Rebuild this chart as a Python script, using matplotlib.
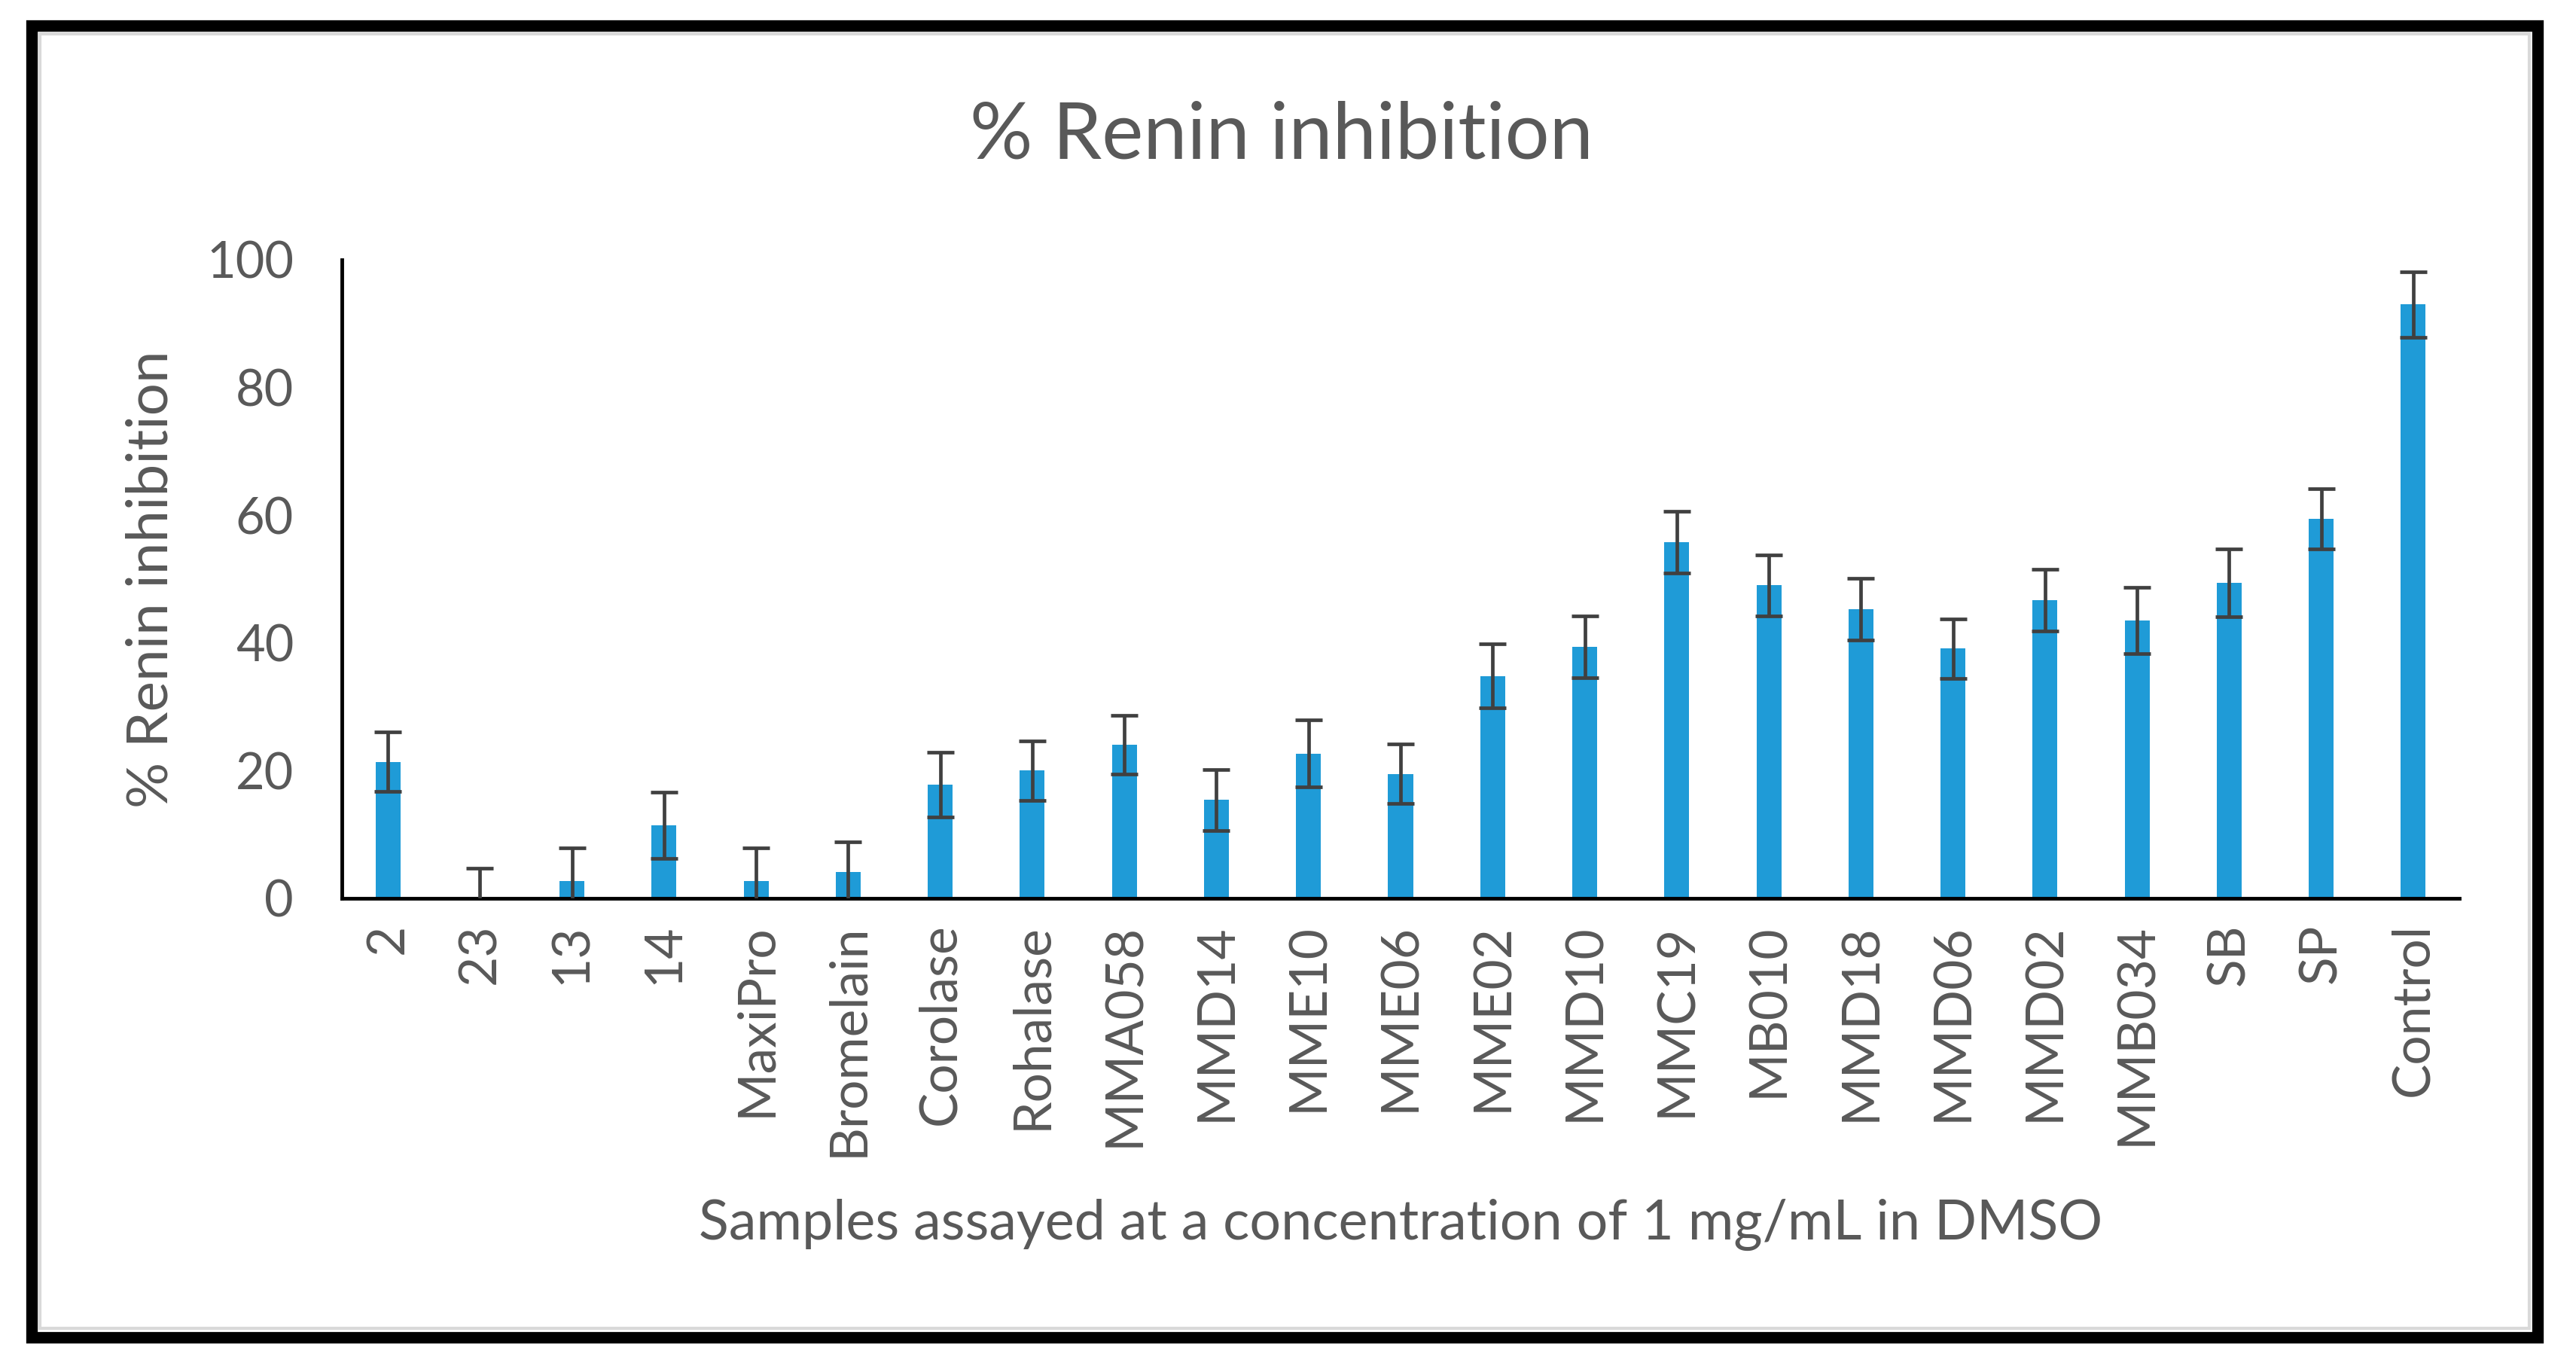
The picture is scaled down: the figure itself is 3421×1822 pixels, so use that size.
import matplotlib.pyplot as plt
from matplotlib.patches import Rectangle

# values
samples = [
    "2", "23", "13", "14", "MaxiPro", "Bromelain", "Corolase", "Rohalase",
    "MMA058", "MMD14", "MME10", "MME06", "MME02", "MMD10", "MMC19", "MB010",
    "MMD18", "MMD06", "MMD02", "MMB034", "SB", "SP", "Control",
]
inhibition = [
    21.4, 0.0, 2.7, 11.4, 2.7, 4.1, 17.8, 20.0,
    24.1, 15.4, 22.7, 19.5, 34.8, 39.4, 55.8, 49.0,
    45.3, 39.1, 46.7, 43.5, 49.4, 59.4, 93.0,
]
error = [
    4.7, 4.7, 5.2, 5.2, 5.2, 4.7, 5.1, 4.7,
    4.6, 4.8, 5.2, 4.7, 5.0, 4.8, 4.8, 4.8,
    4.8, 4.7, 4.8, 5.2, 5.3, 4.7, 5.1,
]

TEXT = "#595959"
BLUE = "#1F9BD7"

plt.rcParams["font.family"] = ["Lato", "DejaVu Sans"]

W, H, DPI = 3421, 1822, 100
fig = plt.figure(figsize=(W / DPI, H / DPI), dpi=DPI)
fig.patch.set_facecolor("white")

# outer frame around the chart
fig.patches.append(
    Rectangle((42 / W, 1 - 1776 / H), (3370 - 42) / W, (1776 - 34) / H,
              transform=fig.transFigure, fill=False, edgecolor="black",
              linewidth=11, zorder=10)
)
fig.patches.append(
    Rectangle((53 / W, 1 - 1764 / H), (3359 - 53) / W, (1764 - 45) / H,
              transform=fig.transFigure, fill=False, edgecolor="#D9D9D9",
              linewidth=3, zorder=9)
)

left, right, bottom, top = 454, 3266, 1193, 345
ax = fig.add_axes([left / W, 1 - bottom / H, (right - left) / W, (bottom - top) / H])

x = range(len(samples))
ax.bar(x, inhibition, width=0.27, color=BLUE, zorder=2)
ax.errorbar(x, inhibition, yerr=error, fmt="none", ecolor="#404040",
            elinewidth=3.4, capsize=13, capthick=3.4, zorder=3)

ax.set_xlim(-0.5, len(samples) - 0.5)
ax.set_ylim(0, 100)
ax.set_yticks([0, 20, 40, 60, 80, 100])
ax.set_xticks(list(x))
ax.set_xticklabels(samples, rotation=90, va="top", ha="center")

for side in ["top", "right"]:
    ax.spines[side].set_visible(False)
for side in ["left", "bottom"]:
    ax.spines[side].set_linewidth(3.5)
    ax.spines[side].set_color("black")

ax.tick_params(axis="y", length=0, pad=46, labelsize=48, labelcolor=TEXT)
ax.tick_params(axis="x", length=0, pad=24, labelsize=50, labelcolor=TEXT)

ax.set_ylabel("% Renin inhibition", fontsize=55, color=TEXT, labelpad=28)
ax.set_xlabel("Samples assayed at a concentration of 1 mg/mL in DMSO",
              fontsize=53, color=TEXT, labelpad=40)

fig.text(1702 / W, 1 - 181 / H, "% Renin inhibition", fontsize=75,
         color=TEXT, ha="center", va="center")

fig.savefig("out.png", dpi=DPI)
